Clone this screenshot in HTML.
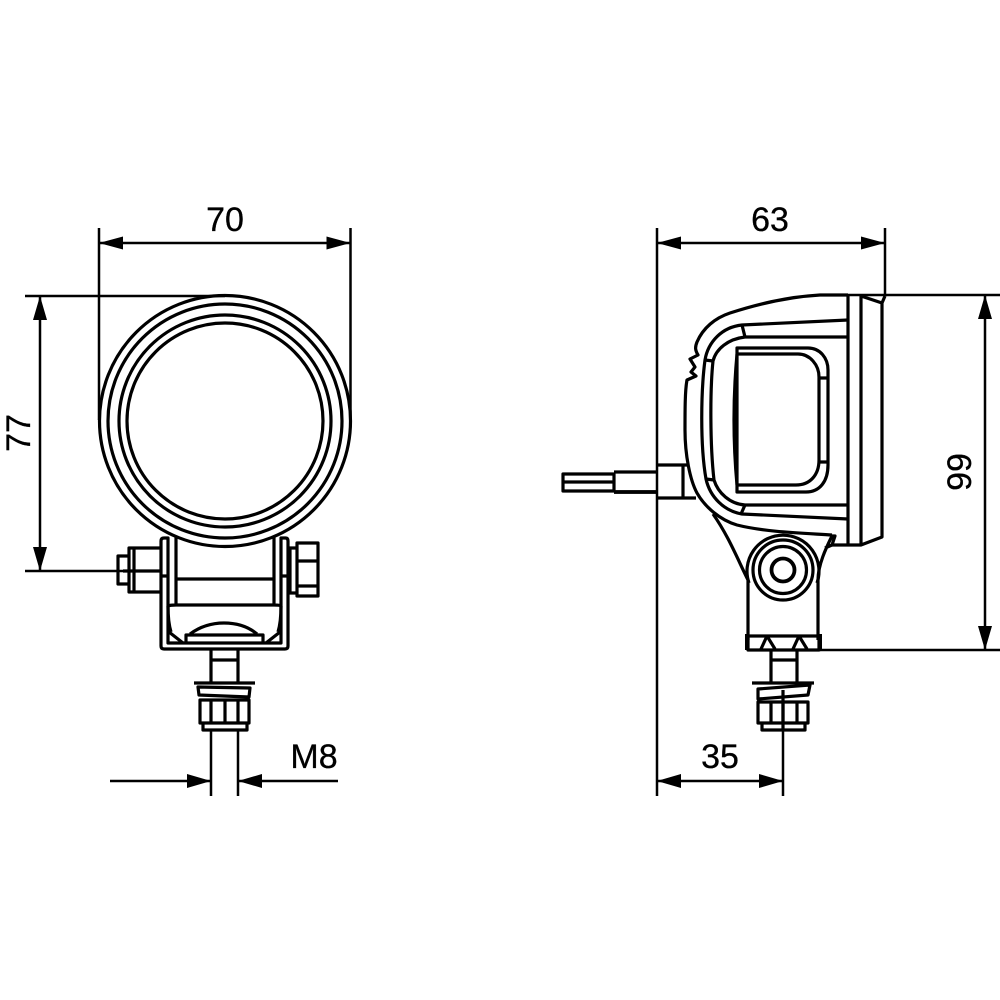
<!DOCTYPE html>
<html><head><meta charset="utf-8"><style>
html,body{margin:0;padding:0;background:#fff;width:1000px;height:1000px;overflow:hidden}
svg{display:block}
text{font-family:"Liberation Sans",sans-serif;font-size:34px;fill:#000;stroke:#000;stroke-width:.3px}
</style></head><body>
<svg width="1000" height="1000" viewBox="0 0 1000 1000" xmlns="http://www.w3.org/2000/svg">
<rect width="1000" height="1000" fill="#fff"/>
<g fill="none" stroke="#000" stroke-width="2.500" stroke-linejoin="round">
<!-- dims left -->
<path d="M99 228V420M350.500 228V420M25 296H225M25 571H161M40 296V571M99 243H350M211 730V796M238 730V796M110 781H211M238 781H338"/>
<!-- dims right -->
<path d="M657 228V796M885 228V296M848 295H1000M820 650H1000M985 295V650M657 243H885M657 781H783M783 730V796"/>
<!-- arrows -->
<g fill="#000" stroke="none">
<path d="M99 243l24-6.500v13zM350.500 243l-24-6.500v13zM40 296l-7 24h14zM40 571l-7-24h14zM211 781l-24-7v14zM238 781l24-7v14z"/>
<path d="M657 243l24-6.500v13zM885 243l-24-6.500v13zM985 295l-7 24h14zM985 650l-7-24h14zM657 781l24-7v14zM783 781l-24-7v14z"/>
</g>
<!-- front view -->
<g stroke-width="3.200">
<circle cx="225" cy="421" r="125.500"/><circle cx="225" cy="421" r="117"/><circle cx="225" cy="421" r="106"/><circle cx="225" cy="421" r="98"/>
<path d="M161 541Q161 538 164 538H168V643H281V538H285.500Q288 538 288 541V646Q288 649 285 649H164Q161 649 161 646Z" fill="#fff"/>
<path d="M176 536V605M274 536V605M161 576H168M281 576H288M176 579H274M168 606Q170 605 176 605H274Q280 605 281 606"/>
<path d="M168 606Q168 622 171 632M281 606Q281 622 278 632M169 632L183 643M280 632L266 643"/>
<path d="M186 643V635H263V643M190 634Q205 623 224 623Q244 623 257 634"/>
<path d="M118 556H129V584H118ZM129 548H134V592H129ZM134 548H161M134 592H161M123 571H161"/>
<path d="M288 548H297M288 593H297M297 543H318V596H297ZM297 561H318M297 586H318M290 548V593"/>
</g>
<g stroke-width="3.200" fill="#fff">
<path d="M211 650V683M238 650V683M211 660H238" fill="none"/>
<path d="M194 683H255" fill="none"/>
<path d="M198 687L250 688L249 697L199 695Z"/>
<path d="M200 700H249V723H200ZM203 723H247V730H203ZM211 700V723M238 700V723M225 700V723"/>
</g>
<!-- side view -->
<g stroke-width="3.200">
<path d="M848 295H820C785 297 755 305 730 313C715 318 703 328 697 342C695 347 695 350 698 355L690 359L695 367L691 372L696 376L687 380C685 390 685 410 685 430C685 455 690 480 697 493C705 507 720 520 737 525C765 532 800 533 832 535"/>
<path d="M848 320L742 325C722 327 708 342 705 360C701 390 700 445 706 479C710 497 724 511 742 514L848 519"/>
<path d="M848 337H745C728 339 716 349 713 361C710 390 710 445 714 480C718 493 730 504 745 505H848"/>
<path d="M705 360L713 361M706 479L714 480M742 325L745 337M745 505L741 514"/>
<path d="M737 348H808C820 348 828 358 828 370V465C828 481 820 492 806 492H737Z"/>
<path d="M737 354H798C810 354 819 365 819 377V460C819 475 810 485 796 485H737M737 354Q731 420 737 485"/>
<path d="M819 378H828M819 462H828"/>
<path d="M848 295V545M861 295V545M832 545H861L882 537V303L861 296M882 303L885 296"/>
<path d="M713 514C728 535 738 560 748 580V640M818 640V580C818 565 826 548 832 536L835 536L832 545L825 548"/>
<path d="M749 583A36 36 0 1 1 817 583"/>
<circle cx="783" cy="570" r="30"/><circle cx="783" cy="570" r="23.500"/>
<circle cx="783" cy="570" r="11.500" stroke-width="3.800"/>
<path d="M748 636H819V650H748ZM761 649L767 636L775 649M793 649L799 636L807 649"/>
<path d="M747 634V650M820 634V650" stroke-width="4"/>
<path d="M563 474H614V491H563ZM563 482H614" stroke-width="3.200"/>
<path d="M614 472H657M614 492H657"/><path d="M614 492H657" stroke-width="3.800"/>
<path d="M657 465H687M657 498H696M683 466V498"/>
</g>
<g stroke-width="3.200" fill="#fff">
<path d="M771 650V683M797 650V683M771 660H797" fill="none"/>
<path d="M752 683H814" fill="none"/>
<path d="M758 689L810 685L808 695L758 699Z"/>
<path d="M758 702H808V723H758ZM762 723H805V730H762ZM771 702V723M797 702V723M783 702V723"/>
<path d="M783 690V730" fill="none"/>
</g>
</g>
<text x="225" y="231" text-anchor="middle">70</text>
<text x="770" y="231" text-anchor="middle">63</text>
<text x="720" y="768" text-anchor="middle">35</text>
<text x="314" y="768" text-anchor="middle">M8</text>
<text transform="translate(30 433) rotate(-90)" text-anchor="middle">77</text>
<text transform="translate(971 472) rotate(-90)" text-anchor="middle">99</text>
</svg>
</body></html>
